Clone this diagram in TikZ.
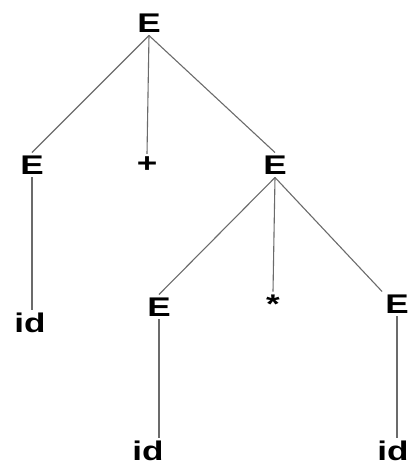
\documentclass[tikz,border=0pt]{standalone}
\usepackage{fontspec}
\setmainfont{Liberation Sans}
\usepackage{graphicx}
\usetikzlibrary{positioning}

\newcommand{\wide}[1]{\scalebox{1.3}[1]{#1}}

\begin{document}
\begin{tikzpicture}[x=1pt,y=-1pt,
        sym/.style={font=\fontsize{27}{30}\selectfont\bfseries,inner sep=3pt},
        branch/.style={draw=black!58,line width=1.1pt}]
        \useasboundingbox (0,0) rectangle (412,468);

        \node [sym] at (149,23) (e0){\wide{E}};
        \node [sym] at (32,165) (e1){\wide{E}};
        \node [sym] at (147,165) (plus){\wide{+}};
        \node [sym] at (275,165) (e2){\wide{E}};
        \node [sym] at (30,323) (id1){\wide{id}};
        \node [sym] at (159,307) (e3){\wide{E}};
        \node [sym] at (273,304) (star){\wide{*}};
        \node [sym] at (397,304) (e4){\wide{E}};
        \node [sym] at (148,451) (id2){\wide{id}};
        \node [sym] at (393,451) (id3){\wide{id}};

        \draw [branch] (e0.south) -- (e1.north);
        \draw [branch] (e0.south) -- (plus.north);
        \draw [branch] (e0.south) -- (e2.north);
        \draw [branch] (e1.south) -- (e1 |- id1.north);
        \draw [branch] (e2.south) -- (e3.north);
        \draw [branch] (e2.south) -- (star.north);
        \draw [branch] (e2.south) -- (e4.north west);
        \draw [branch] (e3.south) -- (e3 |- id2.north);
        \draw [branch] (e4.south) -- (e4 |- id3.north);
      \end{tikzpicture}
\end{document}
